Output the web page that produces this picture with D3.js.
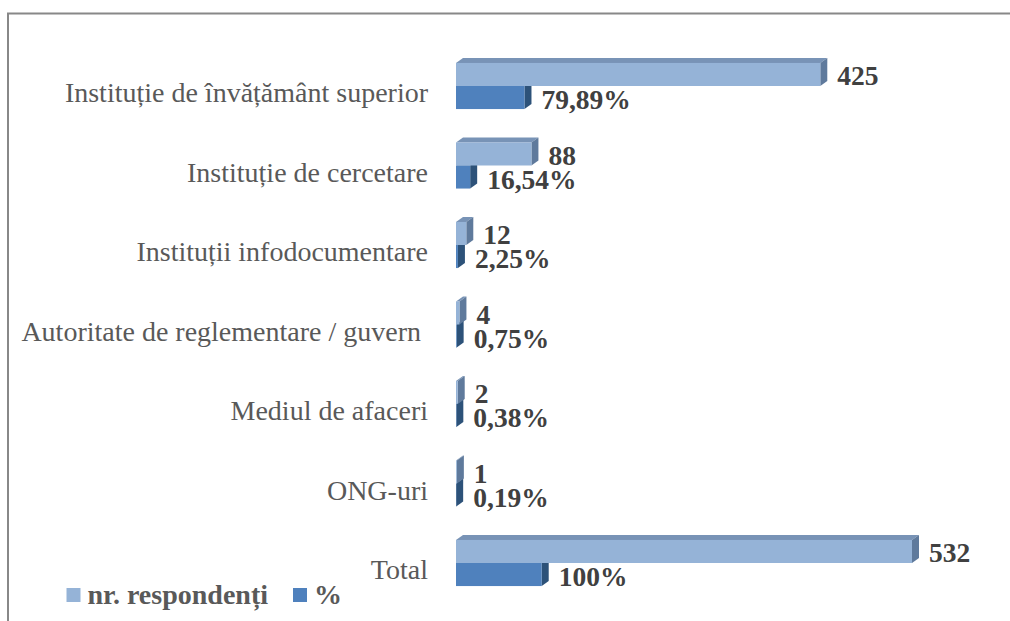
<!DOCTYPE html>
<html>
<head>
<meta charset="utf-8">
<script src="https://cdn.jsdelivr.net/npm/d3@7"></script>
<style>
  body { margin: 0; background: #fff; }
</style>
</head>
<body>
<script>
//Data
const categories = [
    "Instituție de învățământ superior",
    "Instituție de cercetare",
    "Instituții infodocumentare",
    "Autoritate de reglementare / guvern ",
    "Mediul de afaceri",
    "ONG-uri",
    "Total"
];
const respondents = [425, 88, 12, 4, 2, 1, 532];
const percents = [79.89, 16.54, 2.25, 0.75, 0.38, 0.19, 100];
const seriesNames = ["nr. respondenți", "%"];

//Sizes
const width = 1010;
const height = 621;
const depthX = 7;
const depthY = 5;
const serif = "Liberation Serif";

const colors = {
    light: { front: "#95b3d7", top: "#7893b6", side: "#5f7a9c" },
    dark: { front: "#4f81bd", top: "#3d6a9e", side: "#2d5279" }
};

const rows = categories.map((c, i) => ({
    cat: c,
    nr: respondents[i],
    pct: percents[i]
}));

//Scales
const xScale = d3.scaleLinear()
    .domain([0, 532])
    .range([456, 912]);

const yScale = d3.scaleBand()
    .domain(categories)
    .range([46.25, 602.75])
    .paddingInner(0.42)
    .paddingOuter(0.21);

const subScale = d3.scaleBand()
    .domain(["nr", "pct"])
    .range([0, yScale.bandwidth()]);

//SVG
const svg = d3.select("body")
    .append("svg")
    .attr("width", width)
    .attr("height", height);

//Chart border
svg.append("path")
    .attr("d", "M8," + height + "V13.5H" + width)
    .attr("fill", "none")
    .attr("stroke", "#888")
    .attr("stroke-width", 2);

//Draw one 3D bar
function bar3d(g, x0, x1, y0, h, c) {
    g.append("polygon")
        .attr("points", [[x0, y0], [x0 + depthX, y0 - depthY], [x1 + depthX, y0 - depthY], [x1, y0]].join(" "))
        .attr("fill", c.top);
    g.append("polygon")
        .attr("points", [[x1, y0], [x1 + depthX, y0 - depthY], [x1 + depthX, y0 + h - depthY], [x1, y0 + h]].join(" "))
        .attr("fill", c.side);
    g.append("rect")
        .attr("x", x0)
        .attr("y", y0)
        .attr("width", Math.max(0, x1 - x0))
        .attr("height", h)
        .attr("fill", c.front);
}

const fmtPct = v => v === 100 ? "100%" : d3.format(".2f")(v).replace(".", ",") + "%";

const barG = svg.append("g");
const bh = subScale.bandwidth();

rows.forEach(d => {
    const yb = yScale(d.cat);
    //dark bar first, light bar above covers it
    bar3d(barG, xScale(0), xScale(d.pct), yb + subScale("pct"), bh, colors.dark);
    bar3d(barG, xScale(0), xScale(d.nr), yb + subScale("nr"), bh, colors.light);
});

//Value labels
const labelG = svg.append("g");

labelG.selectAll("text.nr")
    .data(rows)
    .join("text")
    .attr("class", "nr")
    .attr("x", d => xScale(d.nr) + depthX + 10)
    .attr("y", d => yScale(d.cat) + subScale("nr") + bh - 1)
    .text(d => d.nr);

labelG.selectAll("text.pct")
    .data(rows)
    .join("text")
    .attr("class", "pct")
    .attr("x", d => xScale(d.pct) + depthX + 10)
    .attr("y", d => yScale(d.cat) + subScale("pct") + bh)
    .text(d => fmtPct(d.pct));

labelG.selectAll("text")
    .attr("font-family", serif)
    .attr("font-weight", "bold")
    .attr("font-size", 27.5)
    .attr("fill", "#404040");

//Category axis labels
svg.append("g")
    .selectAll("text")
    .data(categories)
    .join("text")
    .attr("x", 428)
    .attr("y", d => yScale(d) + yScale.bandwidth() / 2 + 6.5)
    .attr("dy", "0.35em")
    .attr("text-anchor", "end")
    .attr("font-family", serif)
    .attr("font-size", 28)
    .attr("fill", "#595959")
    .style("white-space", "pre")
    .text(d => d);

//Legend
const legend = svg.append("g");
const legendX = [66.5, 293];
const legendColors = [colors.light.front, colors.dark.front];

seriesNames.forEach((name, i) => {
    legend.append("rect")
        .attr("x", legendX[i])
        .attr("y", 588)
        .attr("width", 14)
        .attr("height", 14)
        .attr("fill", legendColors[i]);
    legend.append("text")
        .attr("x", legendX[i] + 21)
        .attr("y", 604)
        .attr("font-family", serif)
        .attr("font-weight", "bold")
        .attr("font-size", 28)
        .attr("fill", "#595959")
        .text(name);
});
</script>
</body>
</html>
